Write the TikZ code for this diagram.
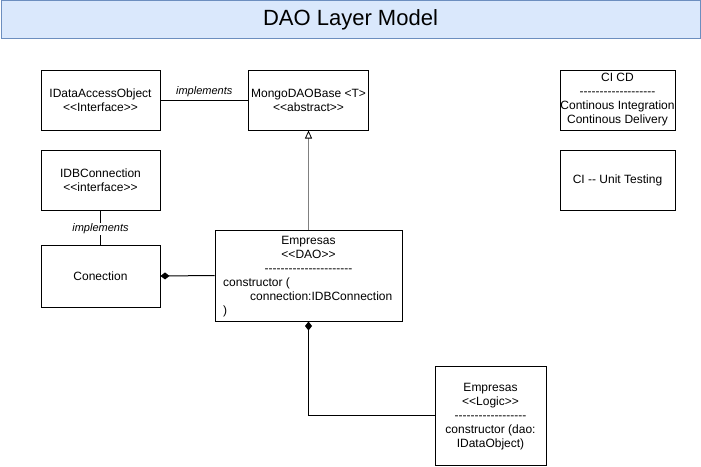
\documentclass[tikz,border=0pt]{standalone}
\usepackage{fontspec}
\setmainfont{Liberation Sans}[Ligatures=TeXOff]
\usetikzlibrary{arrows.meta}
\definecolor{titlefill}{HTML}{DAE8FC}
\definecolor{titledraw}{HTML}{6C8EBF}
\begin{document}
\begin{tikzpicture}[x=1pt,y=-1pt,
  every node/.style={font=\fontsize{12}{14}\selectfont, inner sep=0pt},
  box/.style={draw=black, line width=1pt, fill=white},
  lbl/.style={font=\fontsize{11}{13}\selectfont\itshape},
  conn/.style={line width=1pt, black},
  compo/.style={conn, {Diamond[length=9,width=7]}-}
]
\useasboundingbox (0,0) rectangle (701,466);
% title
\node[draw=titledraw, fill=titlefill, line width=1pt, minimum width=699, minimum height=38,
      font=\fontsize{22}{26}\selectfont] (title) at (350.5,19.5) {DAO Layer Model};
% boxes
\node[box, minimum width=119, minimum height=60, align=center] (ida) at (100.5,100) {IDataAccessObject\\<<Interface>>};
\node[box, minimum width=120, minimum height=60, align=center] (mongo) at (308.5,100) {MongoDAOBase <T>\\<<abstract>>};
\node[box, minimum width=119, minimum height=60, align=center] (idb) at (100.5,180) {IDBConnection\\<<interface>>};
\node[box, minimum width=119, minimum height=62, align=center] (conec) at (100.5,276) {Conection};
\node[box, minimum width=187, minimum height=91] (dao) at (308.5,275.5) {};
\node[align=center] (daohead) at (308.5,254) {Empresas\\<<DAO>>\\----------------------};
\node[anchor=west, align=left] (daobody) at (223,297.5) {constructor (\\\hspace{27pt}connection:IDBConnection\\)};
\node[box, minimum width=111, minimum height=99] (logic) at (490.5,415.5) {};
\node[align=center] (logictext) at (490.5,417) {Empresas\\<<Logic>>\\------------------\\constructor (dao:\\IDataObject)};
\node[box, minimum width=115, minimum height=60, align=center] (cicd) at (617.5,100) {CI CD\\-------------------\\Continous Integration\\Continous Delivery};
\node[box, minimum width=115, minimum height=60, align=center] (unit) at (617.5,180) {CI -- Unit Testing};
% connectors
\draw[conn] (ida.east) -- (mongo.west) node[lbl, midway, above=3pt] {implements};
\draw[conn] (idb.south) -- (conec.north) node[lbl, midway, fill=white, inner sep=1pt, yshift=-1.5] {implements};
\draw[line width=1.5pt, black!50, -{Triangle[open, length=8, width=7, color=black, line width=0.8pt]}] (dao.north) -- (mongo.south);
\draw[compo] (conec.east) -- (dao.west);
\draw[compo] (dao.south) |- (logic.west);
\end{tikzpicture}
\end{document}
